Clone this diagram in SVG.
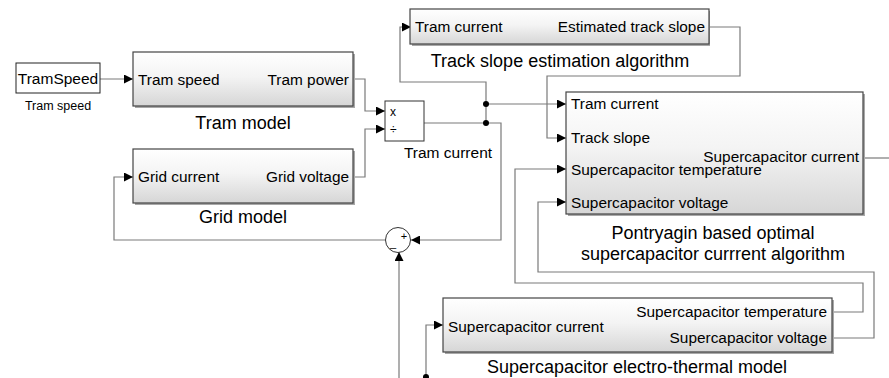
<svg xmlns="http://www.w3.org/2000/svg" width="889" height="378" viewBox="0 0 889 378">
<style>
text{font-family:"Liberation Sans",Arial,sans-serif;fill:#000}
.port{font-size:15.4px}
.lbl{font-size:18px}
.blk{stroke:#444;stroke-width:1.2}
.sh{fill:#a8a8a8}
.wire{fill:none;stroke:#7a7a7a;stroke-width:1.2}
.ar{marker-end:url(#arr)}
.dot{fill:#000}
</style>
<defs>
<linearGradient id="g" x1="0" y1="0" x2="0" y2="1">
<stop offset="0" stop-color="#ffffff"/>
<stop offset="0.45" stop-color="#f4f4f4"/>
<stop offset="1" stop-color="#d6d6d6"/>
</linearGradient>
<marker id="arr" viewBox="0 0 10 10" refX="10" refY="5" markerWidth="10" markerHeight="9" markerUnits="userSpaceOnUse" orient="auto">
<path d="M0,0 L10,5 L0,10 z" fill="#000"/>
</marker>
</defs>
<rect width="889" height="378" fill="#fff"/>

<g id="connectors">
<path class="wire ar" d="M100,79 H133"/>
<path class="wire ar" d="M353,79 H365 V111 H385"/>
<path class="wire ar" d="M353,177 H365 V129 H385"/>
<path class="wire ar" d="M424,123 H501 V240 H411"/>
<path class="wire ar" d="M486,123 V82 H400 V27 H411"/>
<path class="wire ar" d="M486,104 H566"/>
<path class="wire ar" d="M709,27 H740 V76 H547 V138 H566"/>
<path class="wire ar" d="M832,312 H863 V283 H515 V169 H566"/>
<path class="wire ar" d="M832,338 H874 V272 H538 V202 H566"/>
<path class="wire" d="M863,158 H889"/>
<path class="wire ar" d="M385,240 H114 V177 H133"/>
<path class="wire ar" d="M399,378 V252"/>
<path class="wire ar" d="M426,378 V325 H443"/>
<circle class="dot" cx="486" cy="104" r="3"/>
<circle class="dot" cx="486" cy="123" r="3"/>
<circle class="dot" cx="426" cy="377" r="3"/>
</g>

<g id="tramspeed-source">
<rect x="16" y="63" width="84" height="30" fill="#fff" stroke="#222" stroke-width="1"/>
<text x="58" y="84" font-size="15.5" text-anchor="middle">TramSpeed</text>
<text x="58" y="110" font-size="12.5" text-anchor="middle">Tram speed</text>
</g>

<g id="tram-model">
<rect class="sh" x="135" y="54" width="220" height="54"/>
<rect class="blk" x="133" y="52" width="220" height="54" fill="url(#g)"/>
<text class="port" x="138" y="85">Tram speed</text>
<text class="port" x="349" y="85" text-anchor="end">Tram power</text>
<text class="lbl" x="243" y="129" text-anchor="middle">Tram model</text>
</g>

<g id="grid-model">
<rect class="sh" x="135" y="151" width="220" height="54"/>
<rect class="blk" x="133" y="149" width="220" height="54" fill="url(#g)"/>
<text class="port" x="138" y="182">Grid current</text>
<text class="port" x="349" y="182" text-anchor="end">Grid voltage</text>
<text class="lbl" x="243" y="223" text-anchor="middle">Grid model</text>
</g>

<g id="divide">
<rect x="385" y="101" width="39" height="40" fill="#fff" stroke="#333" stroke-width="1"/>
<text x="390" y="116" font-size="12">x</text>
<text x="390" y="134" font-size="12">÷</text>
<text x="448" y="158" font-size="15.5" text-anchor="middle">Tram current</text>
</g>

<g id="track-slope">
<rect class="sh" x="412" y="11" width="298" height="35"/>
<rect class="blk" x="410" y="9" width="299" height="35" fill="url(#g)"/>
<text class="port" x="415" y="32">Tram current</text>
<text class="port" x="705" y="32" text-anchor="end">Estimated track slope</text>
<text class="lbl" x="560" y="67" text-anchor="middle">Track slope estimation algorithm</text>
</g>

<g id="pontryagin">
<rect class="sh" x="568" y="94" width="297" height="122"/>
<rect class="blk" x="566" y="92" width="297" height="122" fill="url(#g)"/>
<text class="port" x="571" y="109">Tram current</text>
<text class="port" x="571" y="143">Track slope</text>
<text class="port" x="571" y="175">Supercapacitor temperature</text>
<text class="port" x="571" y="208">Supercapacitor voltage</text>
<text class="port" x="859" y="162" text-anchor="end">Supercapacitor current</text>
<text class="lbl" x="713" y="239" text-anchor="middle">Pontryagin based optimal</text>
<text class="lbl" x="713" y="260" text-anchor="middle">supercapacitor currrent algorithm</text>
</g>

<g id="sum">
<circle cx="398" cy="240" r="12.5" fill="#fff" stroke="#333" stroke-width="1"/>
<text x="404" y="240" font-size="11" text-anchor="middle">+</text>
<text x="393" y="247" font-size="11" text-anchor="middle">_</text>
</g>

<g id="supercap-model">
<rect class="sh" x="445" y="300" width="389" height="54"/>
<rect class="blk" x="443" y="298" width="389" height="54" fill="url(#g)"/>
<text class="port" x="448" y="332">Supercapacitor current</text>
<text class="port" x="827" y="317" text-anchor="end">Supercapacitor temperature</text>
<text class="port" x="827" y="343" text-anchor="end">Supercapacitor voltage</text>
<text class="lbl" x="637" y="373" text-anchor="middle">Supercapacitor electro-thermal model</text>
</g>
</svg>
